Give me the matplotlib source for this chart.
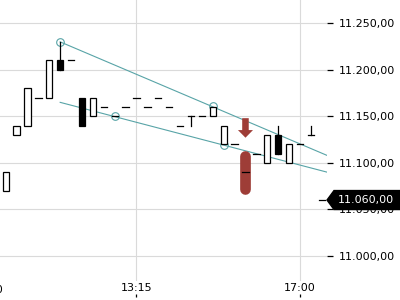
import matplotlib
matplotlib.use("Agg")
import matplotlib.pyplot as plt
import matplotlib.transforms as mtransforms
from matplotlib.patches import Polygon, FancyArrow
from matplotlib.ticker import FuncFormatter

# 15-Minuten-Kerzen (Index 12 = 13:15, Index 27 = 17:00)
opens = [11070, 11130, 11140, 11170, 11170, 11210, 11210, 11170, 11150, 11160,
         11150, 11160, 11170, 11160, 11170, 11160, 11140, 11150, 11150, 11150,
         11120, 11120, 11090, 11110, 11100, 11130, 11100, 11120, 11130, 11060]
closes = [11090, 11140, 11180, 11170, 11210, 11200, 11210, 11140, 11170, 11160,
          11150, 11160, 11170, 11160, 11170, 11160, 11140, 11150, 11150, 11160,
          11140, 11120, 11090, 11110, 11130, 11110, 11120, 11120, 11130, 11060]
highs = [11090, 11140, 11180, 11170, 11210, 11230, 11210, 11170, 11170, 11160,
         11150, 11160, 11170, 11160, 11170, 11160, 11140, 11150, 11150, 11160,
         11140, 11120, 11090, 11110, 11130, 11140, 11120, 11120, 11140, 11060]
lows = [11070, 11130, 11140, 11170, 11170, 11200, 11210, 11140, 11150, 11160,
        11150, 11160, 11170, 11160, 11170, 11160, 11140, 11140, 11150, 11150,
        11120, 11120, 11090, 11110, 11100, 11110, 11100, 11120, 11130, 11060]

tick_pos = [12, 27]
tick_labels = ["13:15", "17:00"]
y_ticks = [11000, 11050, 11100, 11150, 11200, 11250]

# Trendkanal (Start- und Endpunkt) und Beruehrungspunkte
upper_line = ([5, 29.48], [11230, 11108])
lower_line = ([5, 29.48], [11165, 11090])
touch_x = [5, 19, 10, 20]
touch_y = [11230, 11161, 11150, 11119]

# Signal: Pfeil und markierter Bereich
signal_idx = 22
arrow_top, arrow_tip = 11148, 11127
zone_low, zone_high = 11066.5, 11113

last_price = 11060

teal = "#58a4a7"
red = "#9e3d37"

fig = plt.figure(figsize=(4, 3), dpi=100)
ax = fig.add_axes([0, 1 - 281 / 300, 327 / 400, 281 / 300])
ax.set_xlim(-0.52, 29.48)
ax.set_ylim(10973, 11275)

for s in ax.spines.values():
    s.set_visible(False)
ax.grid(True, color="#dadada", linewidth=0.8)
ax.set_axisbelow(True)

# Trendlinien
ax.plot(*upper_line, color=teal, lw=0.8, zorder=2)
ax.plot(*lower_line, color=teal, lw=0.8, zorder=2)
ax.plot(touch_x, touch_y, "o", ms=5.5, mfc="none", mec=teal, mew=0.8, zorder=2)

# Signalbereich
pad = 5.75
ax.plot([signal_idx, signal_idx], [zone_low + pad, zone_high - pad], color=red,
        lw=7.7, solid_capstyle="round", zorder=2.5)
ax.add_patch(FancyArrow(signal_idx, arrow_top, 0, arrow_tip - arrow_top, width=0.6,
                        head_width=1.38, head_length=8.2, length_includes_head=True,
                        color=red, lw=0, zorder=2.5))

# Kerzen
w = 0.58
for i, (o, c, h, l) in enumerate(zip(opens, closes, highs, lows)):
    if h > max(o, c) or l < min(o, c):
        ax.plot([i, i], [l, h], color="black", lw=0.9, zorder=3)
    if o == c:
        ax.plot([i - w / 2, i + w / 2], [o, o], color="black", lw=0.9, zorder=3.5)
    else:
        face = "white" if c > o else "black"
        ax.bar(i, abs(c - o), bottom=min(o, c), width=w, color=face,
               edgecolor="black", lw=0.9, zorder=3)

# Achsen
ax.set_xticks(tick_pos)
ax.set_xticklabels(tick_labels, fontsize=8)
ax.tick_params(axis="x", length=0, pad=1.5)
ax.vlines(tick_pos, -0.057, -0.046, transform=ax.get_xaxis_transform(),
          color="black", lw=0.9, clip_on=False)
ax.text(-1.74, -0.0125, "09:30", transform=ax.get_xaxis_transform(), fontsize=8,
        ha="center", va="top", clip_on=False)

ax.yaxis.tick_right()
ax.set_yticks(y_ticks)
ax.yaxis.set_major_formatter(FuncFormatter(
    lambda v, p: f"{v:,.2f}".replace(",", "X").replace(".", ",").replace("X", ".")))
ax.tick_params(axis="y", length=4, width=0.9, pad=4.5, labelsize=8)

# Kursmarke letzter Kurs
tx, ty = ax.transData.transform((ax.get_xlim()[1], last_price))
shape = [(0, 0), (7, 9.5), (90, 9.5), (90, -9.5), (7, -9.5)]
ax.add_patch(Polygon(shape, closed=True, color="black", clip_on=False, zorder=5,
                     transform=mtransforms.Affine2D().translate(tx, ty)))
ax.annotate(f"{last_price:,.2f}".replace(",", "X").replace(".", ",").replace("X", "."),
            xy=(1, last_price), xycoords=ax.get_yaxis_transform(), xytext=(8, 0),
            textcoords="offset points", color="white", fontsize=8, va="center",
            ha="left", annotation_clip=False, zorder=6)

fig.savefig("out.png", dpi=100)
